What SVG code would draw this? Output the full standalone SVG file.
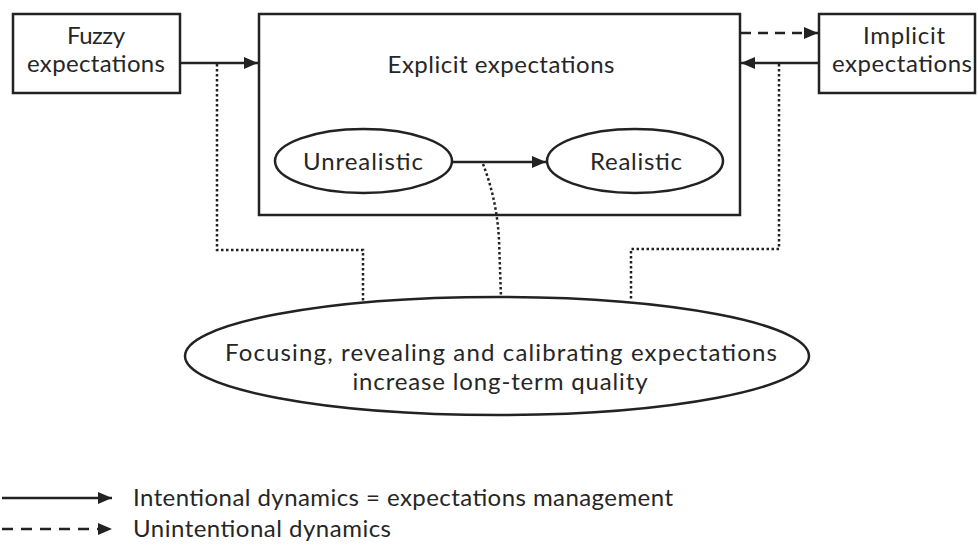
<svg xmlns="http://www.w3.org/2000/svg" width="978" height="549" viewBox="0 0 978 549">
<style>
  .box{fill:#fff;stroke:#222;stroke-width:2.5}
  .frame{fill:none;stroke:#222;stroke-width:2.5}
  .t{font-family:Lato,"Liberation Sans",sans-serif;font-size:24px;fill:#262626;text-anchor:middle}
  .tl{font-family:Lato,"Liberation Sans",sans-serif;font-size:24px;fill:#262626}
  .solid{fill:none;stroke:#222;stroke-width:2.5}
  .dash{fill:none;stroke:#222;stroke-width:2.5;stroke-dasharray:10 7}
  .dot{fill:none;stroke:#222;stroke-width:2.5;stroke-dasharray:2.5 2.5}
</style>
<defs>
  <marker id="ah" viewBox="0 0 14 12" refX="14" refY="6" markerWidth="14" markerHeight="12" markerUnits="userSpaceOnUse" orient="auto">
    <path d="M0,0 L14,6 L0,12 Z" fill="#222"/>
  </marker>
</defs>
<rect width="978" height="549" fill="#fff"/>

<g id="fuzzy">
  <rect class="box" x="13" y="14" width="167" height="79"/>
  <text class="t" x="96" y="44" textLength="58">Fuzzy</text>
  <text class="t" x="96" y="72" textLength="138">expectations</text>
</g>

<g id="explicit">
  <rect class="frame" x="259" y="14" width="481" height="201"/>
  <text class="t" x="501" y="73" textLength="227">Explicit expectations</text>
</g>

<g id="implicit">
  <rect class="box" x="819" y="14" width="156" height="79"/>
  <text class="t" x="904" y="44" textLength="82">Implicit</text>
  <text class="t" x="902" y="72" textLength="140">expectations</text>
</g>

<g id="unrealistic">
  <ellipse class="box" cx="363.5" cy="161" rx="88.5" ry="32"/>
  <text class="t" x="363" y="170" textLength="120">Unrealistic</text>
</g>

<g id="realistic">
  <ellipse class="box" cx="635" cy="161" rx="88" ry="32"/>
  <text class="t" x="636" y="170" textLength="92">Realistic</text>
</g>

<g id="focusing">
  <ellipse class="box" cx="497" cy="356" rx="312" ry="59"/>
  <text class="t" x="501" y="361" textLength="552">Focusing, revealing and calibrating expectations</text>
  <text class="t" x="500" y="390" textLength="295">increase long-term quality</text>
</g>

<g id="connectors">
  <path class="dot" d="M217,64 V250 H363 V303"/>
  <path class="dot" d="M779,64 V249 H631 V301"/>
  <path class="dot" d="M483,164 Q497,200 499,240 L501,297"/>
  <line class="solid" x1="181" y1="63" x2="258" y2="63" marker-end="url(#ah)"/>
  <line class="solid" x1="818" y1="63" x2="741" y2="63" marker-end="url(#ah)"/>
  <line class="dash" x1="741" y1="33" x2="818" y2="33" marker-end="url(#ah)"/>
  <line class="solid" x1="452" y1="162" x2="546" y2="162" marker-end="url(#ah)"/>
</g>

<g id="legend">
  <line class="solid" x1="2" y1="498" x2="112" y2="498" marker-end="url(#ah)"/>
  <text class="tl" x="133" y="506" textLength="540">Intentional dynamics = expectations management</text>
  <line class="dash" x1="2" y1="529" x2="112" y2="529" style="stroke-dasharray:11 8" marker-end="url(#ah)"/>
  <text class="tl" x="133" y="537" textLength="258">Unintentional dynamics</text>
</g>
</svg>
